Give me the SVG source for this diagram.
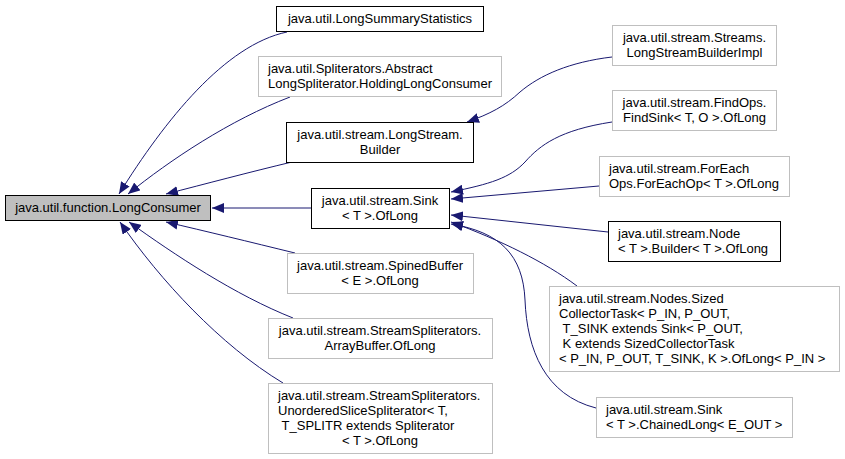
<svg xmlns="http://www.w3.org/2000/svg" width="845" height="459" viewBox="0 0 845 459">
<style>
text{font-family:"Liberation Sans",Arial,sans-serif;font-size:13px;fill:#000}
.c{text-anchor:middle}
.l{text-anchor:start}
.nb{fill:#fff;stroke:#000;stroke-width:1}
.ng{fill:#fff;stroke:#bfbfbf;stroke-width:1}
.nm{fill:#bfbfbf;stroke:#000;stroke-width:1}
.e{fill:none;stroke:#191970;stroke-width:1;marker-end:url(#ah)}
</style>
<defs>
<marker id="ah" markerWidth="12" markerHeight="10" refX="12" refY="5" orient="auto" markerUnits="userSpaceOnUse">
<path d="M0,0 L12,5 L0,10 z" fill="#191970"/>
</marker>
</defs>
<rect width="845" height="459" fill="#fff"/>
<g id="edges">
<path class="e" d="M287,32 C225,45 165,120 119,194"/>
<path class="e" d="M290,97 C230,120 170,160 128,194"/>
<path class="e" d="M292,162 C250,172 205,184 166,194"/>
<path class="e" d="M311,208 L212,208"/>
<path class="e" d="M295,253 C250,242 205,231 166,222"/>
<path class="e" d="M293,318 C235,295 175,255 129,222"/>
<path class="e" d="M283,383 C220,345 160,280 120,222"/>
<path class="e" d="M612,57 C570,62 540,75 520,92 C505,106 490,114 467,122"/>
<path class="e" d="M612,122 C560,130 540,145 525,162 C510,178 490,184 451,192"/>
<path class="e" d="M599,186 L451,199"/>
<path class="e" d="M608,232 L451,215"/>
<path class="e" d="M577,286 C545,262 500,240 451,222"/>
<path class="e" d="M596,408 C545,395 527,350 525,300 C523,255 500,232 451,224"/>
</g>
<g id="n_LongConsumer">
<rect class="nm" x="5.5" y="195.5" width="205" height="25"/>
<text class="c" x="108" y="212">java.util.function.LongConsumer</text>
</g>
<g id="n_LongSummaryStatistics">
<rect class="nb" x="276.5" y="6.5" width="207" height="25"/>
<text class="c" x="380" y="23">java.util.LongSummaryStatistics</text>
</g>
<g id="n_HoldingLongConsumer">
<rect class="ng" x="258.5" y="56.5" width="243" height="40"/>
<text class="l" x="268" y="73">java.util.Spliterators.Abstract</text>
<text class="c" x="380" y="88">LongSpliterator.HoldingLongConsumer</text>
</g>
<g id="n_LongStreamBuilder">
<rect class="nb" x="286.5" y="122.5" width="187" height="40"/>
<text class="c" x="380" y="139">java.util.stream.LongStream.</text>
<text class="c" x="380" y="154">Builder</text>
</g>
<g id="n_SinkOfLong">
<rect class="nb" x="311.5" y="188.5" width="138" height="40"/>
<text class="c" x="380" y="205">java.util.stream.Sink</text>
<text class="c" x="380" y="220">&lt; T &gt;.OfLong</text>
</g>
<g id="n_SpinedBuffer">
<rect class="ng" x="287.5" y="253.5" width="186" height="40"/>
<text class="c" x="380" y="270">java.util.stream.SpinedBuffer</text>
<text class="c" x="380" y="285">&lt; E &gt;.OfLong</text>
</g>
<g id="n_ArrayBuffer">
<rect class="ng" x="268.5" y="318.5" width="224" height="40"/>
<text class="c" x="380" y="335">java.util.stream.StreamSpliterators.</text>
<text class="c" x="380" y="350">ArrayBuffer.OfLong</text>
</g>
<g id="n_UnorderedSlice">
<rect class="ng" x="268.5" y="383.5" width="224" height="70"/>
<text class="l" x="278" y="400">java.util.stream.StreamSpliterators.</text>
<text class="l" x="278" y="415">UnorderedSliceSpliterator&lt; T,</text>
<text class="l" x="278" y="430">&#160;T_SPLITR extends Spliterator</text>
<text class="c" x="380" y="445">&lt; T &gt;.OfLong</text>
</g>
<g id="n_StreamsBuilderImpl">
<rect class="ng" x="612.5" y="25.5" width="164" height="40"/>
<text class="c" x="694.5" y="42">java.util.stream.Streams.</text>
<text class="c" x="694.5" y="57">LongStreamBuilderImpl</text>
</g>
<g id="n_FindSink">
<rect class="ng" x="612.5" y="90.5" width="164" height="40"/>
<text class="c" x="694.5" y="107">java.util.stream.FindOps.</text>
<text class="c" x="694.5" y="122">FindSink&lt; T, O &gt;.OfLong</text>
</g>
<g id="n_ForEachOp">
<rect class="ng" x="599.5" y="156.5" width="190" height="40"/>
<text class="l" x="609" y="173">java.util.stream.ForEach</text>
<text class="l" x="609" y="188">Ops.ForEachOp&lt; T &gt;.OfLong</text>
</g>
<g id="n_NodeBuilder">
<rect class="nb" x="608.5" y="221.5" width="172" height="40"/>
<text class="l" x="618" y="238">java.util.stream.Node</text>
<text class="l" x="618" y="253">&lt; T &gt;.Builder&lt; T &gt;.OfLong</text>
</g>
<g id="n_SizedCollectorTask">
<rect class="ng" x="549.5" y="286.5" width="290" height="85"/>
<text class="l" x="559" y="303">java.util.stream.Nodes.Sized</text>
<text class="l" x="559" y="318">CollectorTask&lt; P_IN, P_OUT,</text>
<text class="l" x="559" y="333">&#160;T_SINK extends Sink&lt; P_OUT,</text>
<text class="l" x="559" y="348">&#160;K extends SizedCollectorTask</text>
<text class="l" x="559" y="363">&lt; P_IN, P_OUT, T_SINK, K &gt;.OfLong&lt; P_IN &gt;</text>
</g>
<g id="n_ChainedLong">
<rect class="ng" x="596.5" y="397.5" width="196" height="40"/>
<text class="l" x="606" y="414">java.util.stream.Sink</text>
<text class="l" x="606" y="429">&lt; T &gt;.ChainedLong&lt; E_OUT &gt;</text>
</g>
</svg>
